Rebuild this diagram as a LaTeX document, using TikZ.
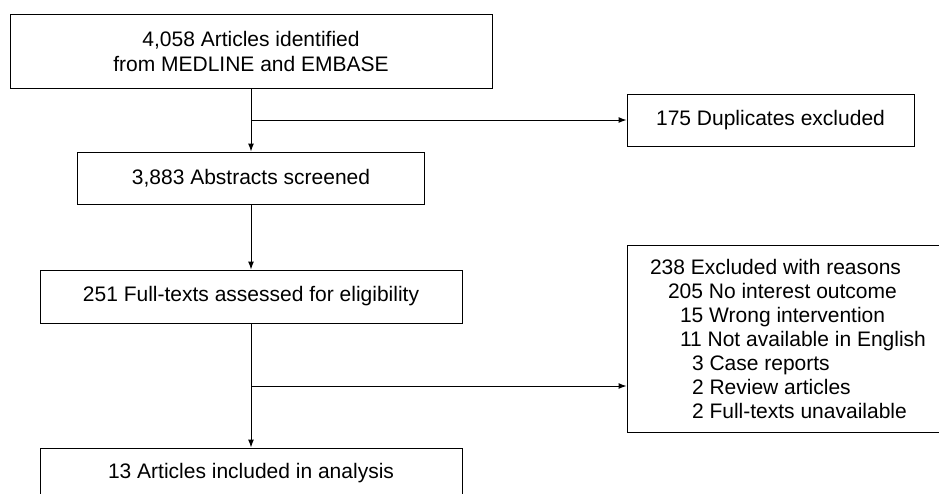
\documentclass[tikz,border=0pt]{standalone}
\usepackage{fontspec}
\setmainfont{Liberation Sans}
\usetikzlibrary{arrows.meta}

\begin{document}
\begin{tikzpicture}[>={Latex[length=8pt,width=6pt]}, x=1pt, y=-1pt, line width=1pt,
	box/.style={draw, inner sep=0pt, align=center, font=\fontsize{21}{25}\selectfont}]
		%\draw [help lines] (0,0) grid (939,493);
		\clip (0,0) rectangle (939,493);
		\node [box, minimum width=482, minimum height=74] (ident) at (251,51) {4,058 Articles identified\\from MEDLINE and EMBASE};
		\node [box, minimum width=287, minimum height=52] (dup) at (770.5,120) {175 Duplicates excluded};
		\node [box, minimum width=347, minimum height=52] (screen) at (251,178) {3,883 Abstracts screened};
		\node [box, minimum width=422, minimum height=53] (full) at (251,296.5) {251 Full-texts assessed for eligibility};
		\node [box, align=left, font=\fontsize{21}{24}\selectfont, minimum width=322, minimum height=187] (excl) at (788,338.5) {238 Excluded with reasons\\
			\hspace*{18pt}205 No interest outcome\\
			\hspace*{30pt}15 Wrong intervention\\
			\hspace*{30pt}11 Not available in English\\
			\hspace*{42pt}3 Case reports\\
			\hspace*{42pt}2 Review articles\\
			\hspace*{42pt}2 Full-texts unavailable};
		\node [box, minimum width=422, minimum height=50] (incl) at (251,473) {13 Articles included in analysis};
		\coordinate (split1) at (ident.south |- dup.west);
		\coordinate (split2) at (251,386);
		\draw [->] (ident) -- (screen);
		\draw [->] (split1) -- (dup.west);
		\draw [->] (screen) -- (full);
		\draw [->] (full) -- (incl);
		\draw [->] (split2) -- (split2 -| excl.west);
	\end{tikzpicture}
\end{document}
